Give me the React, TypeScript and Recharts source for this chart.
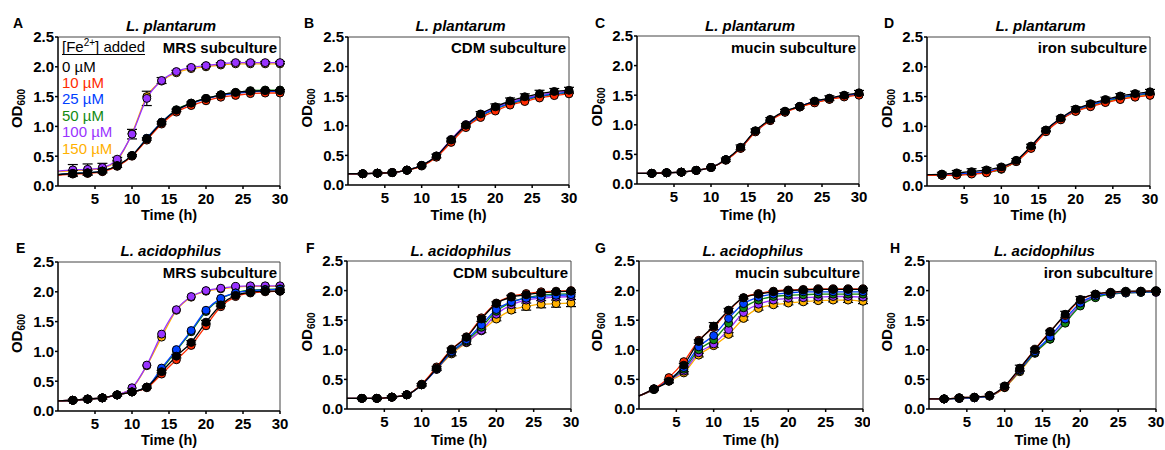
import React from 'react';
import { LineChart, Line, XAxis, YAxis, ErrorBar, ReferenceLine, Customized } from 'recharts';

// ---------- data ----------
// index 0 (t = 0) is where the fitted curve meets the y axis (no marker)
const TIME_H = [0, 2, 4, 6, 8, 10, 12, 14, 16, 18, 20, 22, 24, 26, 28, 30];
const X_TICKS = [5, 10, 15, 20, 25, 30];
const Y_TICKS = [0, 0.5, 1, 1.5, 2, 2.5];
const CONCENTRATIONS = ['0 µM', '10 µM', '25 µM', '50 µM', '100 µM', '150 µM'];

// Panel A: L. plantarum, MRS subculture
const A_0 = [0.19, 0.21, 0.22, 0.25, 0.34, 0.51, 0.79, 1.06, 1.27, 1.39, 1.47, 1.53, 1.57, 1.59, 1.6, 1.6];
const A_10 = [0.18, 0.2, 0.21, 0.24, 0.33, 0.5, 0.77, 1.04, 1.24, 1.35, 1.43, 1.49, 1.52, 1.55, 1.56, 1.56];
const A_25 = [0.19, 0.21, 0.22, 0.25, 0.34, 0.51, 0.8, 1.07, 1.27, 1.38, 1.46, 1.52, 1.55, 1.58, 1.59, 1.59];
const A_50 = [0.19, 0.21, 0.22, 0.25, 0.34, 0.51, 0.8, 1.07, 1.28, 1.39, 1.47, 1.53, 1.57, 1.6, 1.61, 1.61];
const A_100 = [0.25, 0.27, 0.28, 0.31, 0.45, 0.87, 1.47, 1.77, 1.92, 1.99, 2.02, 2.05, 2.07, 2.07, 2.07, 2.07];
const A_150 = [0.24, 0.26, 0.27, 0.3, 0.43, 0.88, 1.5, 1.76, 1.9, 1.97, 2.0, 2.03, 2.05, 2.05, 2.05, 2.05];
const A_ERR_0 = [null, 0.05, 0.04, 0.03, 0.03, 0.02, 0.02, 0.02, 0.02, 0.02, 0.02, 0.02, 0.02, 0.02, 0.02, 0.02];
const A_ERR_100 = [null, 0.09, 0.09, 0.07, 0.03, 0.08, 0.12, 0.05, 0.02, 0.02, 0.02, 0.02, 0.02, 0.02, 0.02, 0.02];

// Panel B: L. plantarum, CDM subculture
const B_0 = [0.19, 0.19, 0.2, 0.21, 0.25, 0.33, 0.49, 0.76, 1.01, 1.2, 1.32, 1.42, 1.49, 1.54, 1.58, 1.6];
const B_10 = [0.19, 0.19, 0.2, 0.21, 0.25, 0.32, 0.47, 0.72, 0.97, 1.14, 1.25, 1.35, 1.41, 1.47, 1.51, 1.54];
const B_25 = [0.19, 0.19, 0.2, 0.21, 0.25, 0.33, 0.48, 0.75, 1.0, 1.17, 1.29, 1.38, 1.45, 1.5, 1.54, 1.57];
const B_50 = [0.19, 0.19, 0.2, 0.21, 0.25, 0.33, 0.48, 0.74, 0.99, 1.16, 1.28, 1.37, 1.44, 1.49, 1.53, 1.56];
const B_100 = [0.19, 0.19, 0.2, 0.21, 0.25, 0.33, 0.49, 0.77, 1.02, 1.19, 1.31, 1.4, 1.47, 1.52, 1.56, 1.58];
const B_150 = [0.19, 0.19, 0.2, 0.21, 0.25, 0.33, 0.48, 0.75, 1.0, 1.17, 1.29, 1.38, 1.45, 1.5, 1.54, 1.57];
const B_ERR_0 = [null, 0.02, 0.02, 0.02, 0.02, 0.02, 0.03, 0.03, 0.03, 0.04, 0.05, 0.05, 0.05, 0.06, 0.05, 0.05];

// Panel C: L. plantarum, mucin subculture
const C_0 = [0.18, 0.18, 0.19, 0.2, 0.23, 0.28, 0.41, 0.62, 0.9, 1.09, 1.23, 1.31, 1.4, 1.45, 1.5, 1.54];
const C_10 = [0.18, 0.18, 0.19, 0.2, 0.23, 0.28, 0.4, 0.6, 0.88, 1.07, 1.21, 1.3, 1.37, 1.43, 1.47, 1.5];
const C_25 = [0.18, 0.18, 0.19, 0.2, 0.23, 0.28, 0.41, 0.61, 0.89, 1.08, 1.22, 1.31, 1.39, 1.44, 1.49, 1.52];
const C_50 = [0.18, 0.18, 0.19, 0.2, 0.23, 0.28, 0.41, 0.61, 0.89, 1.08, 1.22, 1.31, 1.38, 1.44, 1.48, 1.51];
const C_100 = [0.18, 0.18, 0.19, 0.2, 0.23, 0.28, 0.41, 0.61, 0.89, 1.08, 1.22, 1.31, 1.39, 1.44, 1.49, 1.52];
const C_150 = [0.18, 0.18, 0.19, 0.2, 0.23, 0.28, 0.41, 0.61, 0.89, 1.08, 1.22, 1.3, 1.38, 1.43, 1.48, 1.51];
const C_ERR_0 = [null, 0.02, 0.02, 0.02, 0.02, 0.02, 0.03, 0.04, 0.03, 0.03, 0.03, 0.03, 0.03, 0.04, 0.04, 0.04];

// Panel D: L. plantarum, iron subculture
const D_0 = [0.19, 0.2, 0.22, 0.24, 0.27, 0.32, 0.43, 0.67, 0.94, 1.14, 1.29, 1.38, 1.45, 1.51, 1.55, 1.58];
const D_10 = [0.18, 0.18, 0.18, 0.2, 0.22, 0.29, 0.41, 0.63, 0.91, 1.11, 1.25, 1.33, 1.4, 1.45, 1.49, 1.52];
const D_25 = [0.18, 0.19, 0.2, 0.22, 0.24, 0.3, 0.42, 0.65, 0.93, 1.13, 1.27, 1.36, 1.43, 1.49, 1.53, 1.56];
const D_50 = [0.18, 0.18, 0.19, 0.21, 0.23, 0.28, 0.42, 0.65, 0.92, 1.12, 1.26, 1.35, 1.42, 1.48, 1.52, 1.55];
const D_100 = [0.18, 0.19, 0.2, 0.22, 0.24, 0.3, 0.42, 0.65, 0.93, 1.13, 1.27, 1.36, 1.43, 1.48, 1.52, 1.55];
const D_150 = [0.18, 0.18, 0.19, 0.21, 0.23, 0.29, 0.41, 0.64, 0.92, 1.12, 1.26, 1.34, 1.41, 1.46, 1.5, 1.53];
const D_ERR_0 = [null, 0.03, 0.04, 0.05, 0.04, 0.03, 0.03, 0.03, 0.03, 0.03, 0.04, 0.04, 0.04, 0.04, 0.04, 0.04];

// Panel E: L. acidophilus, MRS subculture
const E_0 = [0.17, 0.18, 0.2, 0.22, 0.27, 0.32, 0.4, 0.66, 0.92, 1.15, 1.49, 1.78, 1.94, 1.99, 2.01, 2.01];
const E_10 = [0.17, 0.18, 0.2, 0.22, 0.27, 0.32, 0.39, 0.62, 0.86, 1.1, 1.43, 1.75, 1.92, 1.98, 2.0, 2.01];
const E_25 = [0.17, 0.18, 0.2, 0.22, 0.27, 0.32, 0.4, 0.72, 1.03, 1.35, 1.69, 1.89, 1.98, 2.02, 2.03, 2.04];
const E_50 = [0.17, 0.18, 0.2, 0.22, 0.27, 0.32, 0.4, 0.7, 1.01, 1.33, 1.67, 1.88, 1.98, 2.03, 2.04, 2.05];
const E_100 = [0.17, 0.18, 0.2, 0.22, 0.27, 0.39, 0.77, 1.29, 1.7, 1.92, 2.02, 2.06, 2.09, 2.1, 2.1, 2.1];
const E_150 = [0.17, 0.18, 0.2, 0.22, 0.27, 0.38, 0.76, 1.24, 1.69, 1.91, 2.01, 2.05, 2.08, 2.09, 2.09, 2.09];
const E_ERR_0 = [null, 0.02, 0.02, 0.02, 0.02, 0.02, 0.02, 0.02, 0.03, 0.03, 0.03, 0.02, 0.02, 0.02, 0.02, 0.02];

// Panel F: L. acidophilus, CDM subculture
const F_0 = [0.18, 0.18, 0.18, 0.2, 0.24, 0.41, 0.69, 1.0, 1.21, 1.52, 1.78, 1.89, 1.93, 1.96, 1.98, 1.99];
const F_10 = [0.18, 0.18, 0.18, 0.2, 0.24, 0.42, 0.71, 1.01, 1.22, 1.54, 1.79, 1.9, 1.95, 1.98, 1.99, 2.0];
const F_25 = [0.18, 0.18, 0.18, 0.2, 0.24, 0.41, 0.68, 0.97, 1.17, 1.42, 1.68, 1.81, 1.87, 1.9, 1.92, 1.93];
const F_50 = [0.18, 0.18, 0.18, 0.2, 0.24, 0.41, 0.68, 0.96, 1.15, 1.38, 1.65, 1.8, 1.88, 1.92, 1.94, 1.95];
const F_100 = [0.18, 0.18, 0.18, 0.2, 0.24, 0.41, 0.67, 0.95, 1.13, 1.33, 1.6, 1.76, 1.84, 1.87, 1.89, 1.9];
const F_150 = [0.18, 0.18, 0.18, 0.2, 0.24, 0.41, 0.67, 0.93, 1.12, 1.32, 1.52, 1.67, 1.73, 1.77, 1.78, 1.79];
const F_ERR_0 = [null, 0.02, 0.02, 0.02, 0.02, 0.02, 0.03, 0.03, 0.03, 0.04, 0.03, 0.03, 0.02, 0.02, 0.02, 0.02];
const F_ERR_150 = [null, 0.02, 0.02, 0.02, 0.02, 0.02, 0.02, 0.03, 0.03, 0.03, 0.03, 0.04, 0.06, 0.06, 0.06, 0.06];

// Panel G: L. acidophilus, mucin subculture
const G_0 = [0.22, 0.34, 0.47, 0.74, 1.14, 1.4, 1.67, 1.88, 1.94, 1.98, 2.0, 2.01, 2.02, 2.02, 2.02, 2.02];
const G_10 = [0.22, 0.34, 0.53, 0.8, 1.16, 1.38, 1.66, 1.88, 1.95, 1.99, 2.01, 2.02, 2.03, 2.03, 2.03, 2.03];
const G_25 = [0.22, 0.34, 0.5, 0.7, 1.05, 1.24, 1.53, 1.78, 1.89, 1.94, 1.96, 1.98, 1.98, 1.98, 1.98, 1.98];
const G_50 = [0.22, 0.33, 0.49, 0.67, 1.0, 1.17, 1.45, 1.71, 1.84, 1.9, 1.92, 1.93, 1.94, 1.94, 1.94, 1.94];
const G_100 = [0.22, 0.33, 0.48, 0.64, 0.95, 1.1, 1.34, 1.63, 1.77, 1.84, 1.87, 1.88, 1.89, 1.9, 1.9, 1.89];
const G_150 = [0.22, 0.33, 0.47, 0.61, 0.91, 1.07, 1.26, 1.53, 1.7, 1.76, 1.79, 1.81, 1.83, 1.84, 1.84, 1.82];
const G_ERR_0 = [null, 0.02, 0.03, 0.03, 0.03, 0.06, 0.03, 0.02, 0.02, 0.02, 0.02, 0.02, 0.02, 0.02, 0.02, 0.02];
const G_ERR_150 = [null, 0.02, 0.02, 0.02, 0.03, 0.03, 0.03, 0.03, 0.03, 0.03, 0.03, 0.03, 0.03, 0.03, 0.04, 0.04];

// Panel H: L. acidophilus, iron subculture
const H_0 = [0.17, 0.17, 0.19, 0.2, 0.23, 0.39, 0.69, 1.0, 1.3, 1.6, 1.85, 1.94, 1.97, 1.99, 1.99, 2.0];
const H_10 = [0.17, 0.17, 0.19, 0.2, 0.23, 0.37, 0.68, 1.01, 1.31, 1.58, 1.84, 1.94, 1.97, 1.98, 1.99, 1.99];
const H_25 = [0.17, 0.17, 0.18, 0.19, 0.22, 0.38, 0.66, 0.97, 1.22, 1.52, 1.79, 1.91, 1.95, 1.97, 1.98, 1.98];
const H_50 = [0.17, 0.17, 0.18, 0.19, 0.22, 0.37, 0.65, 0.95, 1.18, 1.45, 1.74, 1.88, 1.94, 1.96, 1.97, 1.98];
const H_100 = [0.17, 0.17, 0.18, 0.19, 0.22, 0.37, 0.65, 0.95, 1.19, 1.47, 1.76, 1.89, 1.94, 1.96, 1.97, 1.97];
const H_150 = [0.17, 0.17, 0.18, 0.19, 0.22, 0.36, 0.63, 0.94, 1.18, 1.47, 1.77, 1.9, 1.95, 1.97, 1.98, 1.98];
const H_ERR_0 = [null, 0.02, 0.02, 0.02, 0.02, 0.03, 0.05, 0.03, 0.03, 0.05, 0.05, 0.03, 0.02, 0.02, 0.02, 0.02];

// ---------- styles ----------
const SERIES_COLORS = ['#000000', '#ff2a00', '#0040ff', '#138a13', '#9933ff', '#ffb000'];
const FONT = "'Liberation Sans', Arial, sans-serif";

type Panel = {
  letter: string;
  species: string;
  medium: string;
  series: number[][];
  errors: Record<number, (number | null)[]>;
  legend?: boolean;
  cellX: number;
  cellY: number;
  cellW: number;
  plotLeft: number;
  plotRight: number;
  plotTop: number;
  plotBottom: number;
  letterX: number;
};

const PANELS: Panel[] = [
  { letter: 'A', species: 'L. plantarum', medium: 'MRS subculture', series: [A_0, A_10, A_25, A_50, A_100, A_150], errors: { 0: A_ERR_0, 4: A_ERR_100 }, legend: true, cellX: 0, cellY: 0, cellW: 290, plotLeft: 58, plotRight: 280, plotTop: 37, plotBottom: 186, letterX: 13 },
  { letter: 'B', species: 'L. plantarum', medium: 'CDM subculture', series: [B_0, B_10, B_25, B_50, B_100, B_150], errors: { 0: B_ERR_0 }, cellX: 290, cellY: 0, cellW: 290, plotLeft: 58, plotRight: 279, plotTop: 37, plotBottom: 185, letterX: 14 },
  { letter: 'C', species: 'L. plantarum', medium: 'mucin subculture', series: [C_0, C_10, C_25, C_50, C_100, C_150], errors: { 0: C_ERR_0 }, cellX: 580, cellY: 0, cellW: 290, plotLeft: 57, plotRight: 279, plotTop: 36, plotBottom: 184, letterX: 15 },
  { letter: 'D', species: 'L. plantarum', medium: 'iron subculture', series: [D_0, D_10, D_25, D_50, D_100, D_150], errors: { 0: D_ERR_0 }, cellX: 870, cellY: 0, cellW: 295, plotLeft: 57, plotRight: 280, plotTop: 37, plotBottom: 186, letterX: 14 },
  { letter: 'E', species: 'L. acidophilus', medium: 'MRS subculture', series: [E_0, E_10, E_25, E_50, E_100, E_150], errors: { 0: E_ERR_0 }, cellX: 0, cellY: 225, cellW: 290, plotLeft: 58, plotRight: 280, plotTop: 37, plotBottom: 186, letterX: 16 },
  { letter: 'F', species: 'L. acidophilus', medium: 'CDM subculture', series: [F_0, F_10, F_25, F_50, F_100, F_150], errors: { 0: F_ERR_0, 5: F_ERR_150 }, cellX: 290, cellY: 225, cellW: 290, plotLeft: 57, plotRight: 281, plotTop: 36, plotBottom: 184, letterX: 16 },
  { letter: 'G', species: 'L. acidophilus', medium: 'mucin subculture', series: [G_0, G_10, G_25, G_50, G_100, G_150], errors: { 0: G_ERR_0, 5: G_ERR_150 }, cellX: 580, cellY: 225, cellW: 290, plotLeft: 59, plotRight: 283, plotTop: 36, plotBottom: 184, letterX: 15 },
  { letter: 'H', species: 'L. acidophilus', medium: 'iron subculture', series: [H_0, H_10, H_25, H_50, H_100, H_150], errors: { 0: H_ERR_0 }, cellX: 870, cellY: 225, cellW: 295, plotLeft: 59, plotRight: 286, plotTop: 36, plotBottom: 184, letterX: 20 },
];

const DRAW_ORDER = [5, 4, 3, 2, 1, 0];
const CELL_H = 225;

function buildRows(p: Panel) {
  return TIME_H.map((t, i) => {
    const row: Record<string, number | null> = { t };
    p.series.forEach((s, k) => {
      row['s' + k] = s[i];
      const e = p.errors[k];
      if (e) row['e' + k] = e[i];
    });
    return row;
  });
}

const makeDot = (color: string) => (props: any) => {
  const { cx, cy, index } = props;
  if (index === 0 || cx == null || cy == null) return <g key={`n-${index}`} />;
  return <circle key={`d-${index}`} cx={cx} cy={cy} r={4} fill={color} stroke="#000" strokeWidth={1} />;
};

const PanelText = ({ p }: { p: Panel }) => {
  const cx = (p.plotLeft + p.plotRight) / 2;
  const midY = (p.plotTop + p.plotBottom) / 2 - 3;
  return (
    <g fontFamily={FONT} fill="#000">
      <text x={p.letterX} y={28} fontSize={14} fontWeight="bold">{p.letter}</text>
      <text x={cx + 2} y={31} fontSize={15} fontWeight="bold" fontStyle="italic" textAnchor="middle">{p.species}</text>
      <text x={p.plotRight - 3} y={53} fontSize={15} fontWeight="bold" textAnchor="end">{p.medium}</text>
      <text transform={`translate(21.5, ${midY}) rotate(-90)`} fontSize={15} fontWeight="bold" textAnchor="middle">
        OD<tspan fontSize={10} dy={3}>600</tspan>
      </text>
      <text x={cx} y={220} fontSize={14.5} fontWeight="bold" textAnchor="middle">Time (h)</text>
      {p.legend && (
        <g>
          <text x={62} y={52} fontSize={15}>
            [Fe<tspan fontSize={10} dy={-6}>2+</tspan><tspan dy={6}>] added</tspan>
          </text>
          <line x1={62} x2={145} y1={54.5} y2={54.5} stroke="#000" strokeWidth={1} />
          {CONCENTRATIONS.map((c, i) => (
            <text key={c} x={62} y={71.5 + i * 16.4} fontSize={15} fill={SERIES_COLORS[i]}>{c}</text>
          ))}
        </g>
      )}
    </g>
  );
};

const TICK_STYLE = { fontSize: 15, fontWeight: 'bold', fill: '#000', fontFamily: FONT };

const PanelChart = ({ p }: { p: Panel }) => {
  const rows = buildRows(p);
  const xAxisH = CELL_H - p.plotBottom - 9;
  return (
    <div style={{ position: 'absolute', left: p.cellX, top: p.cellY, width: p.cellW, height: CELL_H }}>
      <LineChart
        width={p.cellW}
        height={CELL_H}
        data={rows}
        margin={{ top: p.plotTop, right: p.cellW - p.plotRight, bottom: 9, left: 0 }}
      >
        <XAxis
          type="number"
          dataKey="t"
          domain={[0, 30]}
          ticks={X_TICKS}
          height={xAxisH}
          tickSize={3}
          tickMargin={4}
          axisLine={{ stroke: '#000', strokeWidth: 1.5 }}
          tickLine={{ stroke: '#000', strokeWidth: 1.5 }}
          tick={TICK_STYLE}
        />
        <YAxis
          type="number"
          domain={[0, 2.5]}
          ticks={Y_TICKS}
          width={p.plotLeft}
          tickSize={3}
          tickMargin={1}
          tickFormatter={(v: number) => v.toFixed(1)}
          axisLine={{ stroke: '#000', strokeWidth: 1.5 }}
          tickLine={{ stroke: '#000', strokeWidth: 1.5 }}
          tick={TICK_STYLE}
        />
        <ReferenceLine y={2.5} stroke="#444" strokeWidth={1} ifOverflow="visible" />
        <ReferenceLine x={30} stroke="#444" strokeWidth={1} ifOverflow="visible" />
        {DRAW_ORDER.map((k) => (
          <Line
            key={k}
            type="monotone"
            dataKey={'s' + k}
            stroke={SERIES_COLORS[k]}
            strokeWidth={1.3}
            dot={makeDot(SERIES_COLORS[k])}
            activeDot={false}
            isAnimationActive={false}
          >
            {p.errors[k] ? (
              <ErrorBar dataKey={'e' + k} direction="y" width={5} stroke="#000" strokeWidth={1.2} isAnimationActive={false} />
            ) : null}
          </Line>
        ))}
        <Customized component={() => <PanelText p={p} />} />
      </LineChart>
    </div>
  );
};

export default function App() {
  return (
    <div style={{ position: 'absolute', left: 0, top: 0, width: 1165, height: 450, background: '#fff', overflow: 'hidden' }}>
      {PANELS.map((p) => (
        <PanelChart key={p.letter} p={p} />
      ))}
    </div>
  );
}
